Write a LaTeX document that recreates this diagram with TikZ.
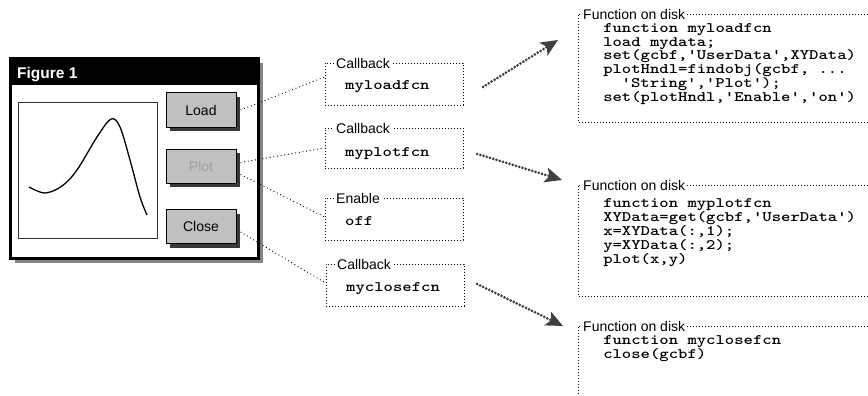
\documentclass[tikz,border=0pt]{standalone}
\usepackage{fontspec}
\setsansfont{Liberation Sans}
\usetikzlibrary{arrows.meta,shadows}
\definecolor{btnc}{HTML}{C0C0C0}
\definecolor{btnsh}{HTML}{383838}
\definecolor{winsh}{HTML}{858585}
\definecolor{arrowc}{HTML}{404040}
\definecolor{dimtext}{HTML}{A0A0A0}
\newcommand{\q}{\textquotesingle}
\begin{document}
\begin{tikzpicture}[x=1pt,y=-1pt,
  lbl/.style={font=\sffamily\fontsize{14}{14}\selectfont, fill=white, inner xsep=2pt, inner ysep=0pt, anchor=west},
  code/.style={font=\ttfamily\bfseries\fontsize{14.5}{14.5}\selectfont, anchor=base west, inner sep=0pt,
    xscale=1.23, transform shape},
  dotline/.style={draw=black, line width=0.9pt, dash pattern=on 0.9pt off 2.1pt},
  dotbox/.style={dotline, rectangle, inner sep=0pt, minimum width=138pt},
  conn/.style={draw=black, line width=0.9pt, dash pattern=on 0.9pt off 2.8pt},
  fat/.style={draw=arrowc, line width=3pt, dash pattern=on 0pt off 3.4pt, line cap=round,
    -{Stealth[length=17pt,width=15pt,inset=4pt,fill=arrowc]}},
  btn/.style={draw=black, line width=1pt, fill=btnc, minimum width=70pt, minimum height=34pt,
    inner sep=0pt, font=\sffamily\fontsize{14}{14}\selectfont,
    drop shadow={shadow xshift=4pt, shadow yshift=-4pt, fill=btnsh, opacity=1}},
]
\useasboundingbox (0,0) rectangle (868,396);

% window
\node[draw=black, line width=3pt, fill=white, minimum width=248pt, minimum height=200pt, inner sep=0pt,
  drop shadow={shadow xshift=4.5pt, shadow yshift=-4.5pt, fill=winsh, opacity=1}] (win) at (134.5,158.5) {};
\node[fill=black, minimum width=251pt, minimum height=28pt, inner sep=0pt] (title) at (134.5,71) {};
\node[font=\sffamily\bfseries\fontsize{15.5}{15.5}\selectfont, text=white, anchor=base west, inner sep=0pt] (ttl) at (17,79) {Figure 1};

% axes
\node[draw=black!80, line width=1pt, minimum width=139pt, minimum height=135pt, inner sep=0pt] (axes) at (87.5,170.5) {};
\draw[line width=1.3pt] plot[smooth, tension=0.55] coordinates {(29,187) (45,193) (62,186) (77,170) (97,137) (111,119) (120,127) (130,160) (140,197) (147,215)};

% buttons
\node[btn] (load) at (201,110) {Load};
\node[btn, text=dimtext] (plotb) at (201,166) {Plot};
\node[btn] (close) at (201,226.5) {Close};

% callback boxes
\node[dotbox, minimum height=42pt] (cb1) at (394,84) {};
\node[lbl] (cb1l) at (334,63) {Callback};
\node[code] (cb1t) at (345,90) {myloadfcn};

\node[dotbox, minimum height=40pt] (cb2) at (394,148) {};
\node[lbl] (cb2l) at (334,128) {Callback};
\node[code] (cb2t) at (345,156) {myplotfcn};

\node[dotbox, minimum height=42pt] (en) at (394,219) {};
\node[lbl] (enl) at (334,198) {Enable};
\node[code] (ent) at (345,225) {off};

\node[dotbox, minimum height=42pt] (cb3) at (395,285) {};
\node[lbl] (cb3l) at (335,264) {Callback};
\node[code] (cb3t) at (346,291) {myclosefcn};

% connectors
\draw[conn] ([xshift=4pt]load.east) -- ([yshift=7pt]cb1.west);
\draw[conn] ([xshift=4pt,yshift=3.5pt]plotb.east) -- (cb2.west);
\draw[conn] ([xshift=4pt,yshift=-8.5pt]plotb.east) -- ([yshift=2pt]en.west);
\draw[conn] ([xshift=4pt,yshift=-5.5pt]close.east) -- ([yshift=2pt]cb3.west);

% fat arrows
\coordinate (a1s) at (483,87);  \coordinate (a1e) at (558,40);
\coordinate (a2s) at (477,154); \coordinate (a2e) at (562,180);
\coordinate (a3s) at (477,284); \coordinate (a3e) at (563,326);
\draw[fat] (a1s) -- (a1e);
\draw[fat] (a2s) -- (a2e);
\draw[fat] (a3s) -- (a3e);

% function boxes
\draw[dotline] (868,14) -- (578,14) -- (578,122) -- (868,122);
\node[lbl] (f1l) at (581,14) {Function on disk};
\node[code] (f1a) at (603,32.5) {function myloadfcn};
\node[code] (f1b) at (603,46.2) {load mydata;};
\node[code] (f1c) at (603,59.9) {set(gcbf,\q UserData\q,XYData)};
\node[code] (f1d) at (603,73.6) {plotHndl=findobj(gcbf, ...};
\node[code] (f1e) at (603,87.3) {\hspace*{15pt}\q String\q,\q Plot\q);};
\node[code] (f1f) at (603,101) {set(plotHndl,\q Enable\q,\q on\q)};

\draw[dotline] (868,185) -- (578,185) -- (578,296) -- (868,296);
\node[lbl] (f2l) at (581,185) {Function on disk};
\node[code] (f2a) at (603,207) {function myplotfcn};
\node[code] (f2b) at (603,221) {XYData=get(gcbf,\q UserData\q)};
\node[code] (f2c) at (603,235) {x=XYData(:,1);};
\node[code] (f2d) at (603,249) {y=XYData(:,2);};
\node[code] (f2e) at (603,263) {plot(x,y)};

\draw[dotline] (868,326) -- (578,326) -- (578,396);
\node[lbl] (f3l) at (581,326) {Function on disk};
\node[code] (f3a) at (603,344) {function myclosefcn};
\node[code] (f3b) at (603,358) {close(gcbf)};
\end{tikzpicture}
\end{document}
